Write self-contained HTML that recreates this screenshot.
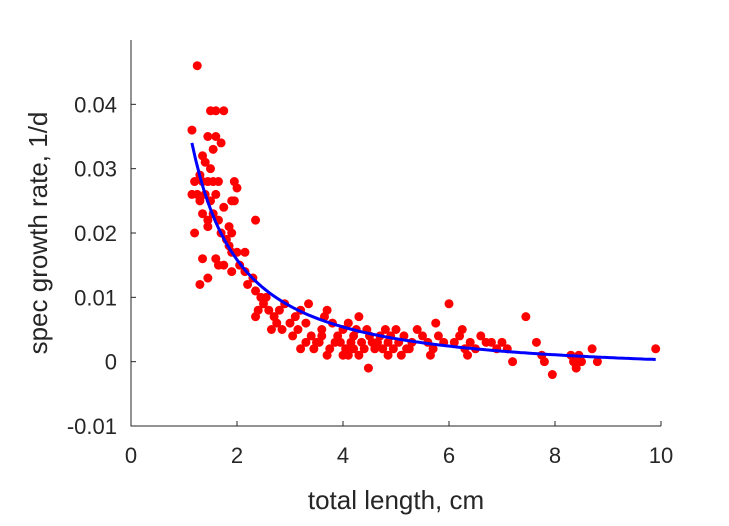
<!DOCTYPE html>
<html><head><meta charset="utf-8"><style>body{margin:0;background:#fff}svg text{font-family:"Liberation Sans",sans-serif;fill:#262626}</style></head>
<body>
<svg id="chart" width="729" height="521" xmlns="http://www.w3.org/2000/svg"></svg>
<script>
const xTicks=[0,2,4,6,8,10];
const yTicks=[-0.01,0,0.01,0.02,0.03,0.04];
const yTickLabels=["-0.01","0","0.01","0.02","0.03","0.04"];
const ptsX=[1.25,1.15,1.5,1.6,1.75,1.45,1.6,1.7,1.55,1.35,1.4,1.5,1.3,1.2,1.35,1.45,1.55,1.65,1.25,1.15,1.4,1.6,1.95,2.0,1.9,1.95,1.3,1.5,1.75,1.35,1.55,1.45,1.65,1.85,1.9,2.35,1.2,1.45,1.7,1.8,1.85,1.9,2.0,2.15,1.35,1.6,1.65,1.75,1.9,2.05,2.15,2.3,1.45,1.3,2.2,2.35,2.45,2.55,2.5,2.4,2.35,2.6,2.7,2.8,2.9,2.75,2.65,2.85,3.0,3.1,3.2,3.3,3.05,3.15,3.2,3.35,3.4,3.5,3.6,3.65,3.7,3.8,3.9,3.45,3.55,3.75,3.85,4.0,4.1,4.05,4.15,4.2,4.3,4.25,4.35,4.4,4.45,4.5,4.55,4.6,4.48,4.7,4.75,4.8,4.85,4.9,4.95,5.0,5.05,5.1,5.15,5.2,5.3,5.4,5.5,5.6,5.7,5.65,5.75,5.8,5.9,6.0,6.1,6.2,6.25,6.3,6.35,6.4,6.5,6.6,6.7,6.8,6.9,7.0,7.1,7.2,7.45,7.65,7.75,7.8,7.95,8.3,8.35,8.4,8.45,8.5,8.7,8.8,9.9,3.3,3.6,3.95,4.1,4.2,4.3,4.65,4.85,5.25,4.0,3.7];
const ptsY=[0.046,0.036,0.039,0.039,0.039,0.035,0.035,0.034,0.033,0.032,0.031,0.030,0.029,0.028,0.028,0.028,0.028,0.028,0.026,0.026,0.026,0.026,0.028,0.027,0.025,0.025,0.025,0.025,0.024,0.023,0.023,0.022,0.022,0.021,0.020,0.022,0.020,0.021,0.020,0.019,0.018,0.017,0.017,0.017,0.016,0.016,0.015,0.015,0.014,0.015,0.014,0.013,0.013,0.012,0.012,0.011,0.010,0.010,0.009,0.008,0.007,0.008,0.007,0.008,0.009,0.006,0.005,0.005,0.006,0.007,0.008,0.006,0.004,0.005,0.002,0.009,0.004,0.003,0.005,0.007,0.008,0.006,0.004,0.002,0.003,0.002,0.003,0.005,0.006,0.002,0.003,0.004,0.007,0.005,0.003,0.002,0.005,0.004,0.003,0.002,-0.001,0.004,0.002,0.005,0.003,0.004,0.002,0.005,0.003,0.001,0.004,0.002,0.003,0.005,0.004,0.003,0.002,0.001,0.006,0.004,0.003,0.009,0.003,0.004,0.005,0.002,0.001,0.003,0.002,0.004,0.003,0.003,0.002,0.003,0.002,0.000,0.007,0.003,0.001,0.000,-0.002,0.001,0.000,-0.001,0.001,0.000,0.002,0.000,0.002,0.003,0.004,0.003,0.001,0.002,0.001,0.003,0.001,0.002,0.001,0.001];
const fitA=0.043, fitB=1.27, fitC=-0.002, fitX0=1.15, fitX1=9.9;
const NS="http://www.w3.org/2000/svg", svg=document.getElementById('chart');
const X0=131,X1=661,Y0=426,Y1=40;
const sx=v=>X0+(v-0)/(10-0)*(X1-X0);
const sy=v=>Y0-(v-(-0.01))/(0.05-(-0.01))*(Y0-Y1);
function mk(t,a){const e=document.createElementNS(NS,t);for(const k in a)e.setAttribute(k,a[k]);svg.appendChild(e);return e;}
let e;
e=mk('path',{d:`M${X0},${Y1}V${Y0}H${X1}`,stroke:'#262626','stroke-width':1,fill:'none'});


xTicks.forEach(t=>{const x=sx(t);
 e=mk('line',{x1:x,x2:x,y1:Y0,y2:Y0-5,stroke:'#262626'});
 
 
 e=mk('text',{x:x,y:Y0+37,'text-anchor':'middle','font-size':22});e.textContent=t;
 
 });
yTicks.forEach((t,i)=>{const y=sy(t);
 e=mk('line',{x1:X0,x2:X0+5,y1:y,y2:y,stroke:'#262626'});
 
 
 e=mk('text',{x:X0-14,y:y+8,'text-anchor':'end','font-size':22});e.textContent=yTickLabels[i];
 
 });
e=mk('text',{x:396,y:509,'text-anchor':'middle','font-size':26});e.textContent='total length, cm';


e=mk('text',{x:0,y:0,'text-anchor':'middle','font-size':26,transform:'translate(47,233) rotate(-90)'});e.textContent='spec growth rate, 1/d';


ptsX.forEach((x,i)=>{e=mk('circle',{cx:sx(x),cy:sy(ptsY[i]),r:4.5,fill:'#ff0000'});
 
 });
let d='';for(let k=0;k<=120;k++){const x=fitX0+(fitX1-fitX0)*k/120;const y=fitA*Math.pow(x,-fitB)+fitC;d+=(k?'L':'M')+sx(x).toFixed(1)+','+sy(y).toFixed(1);}
e=mk('path',{d:d,stroke:'#0000ff','stroke-width':3,fill:'none'});


</script>
</body></html>
